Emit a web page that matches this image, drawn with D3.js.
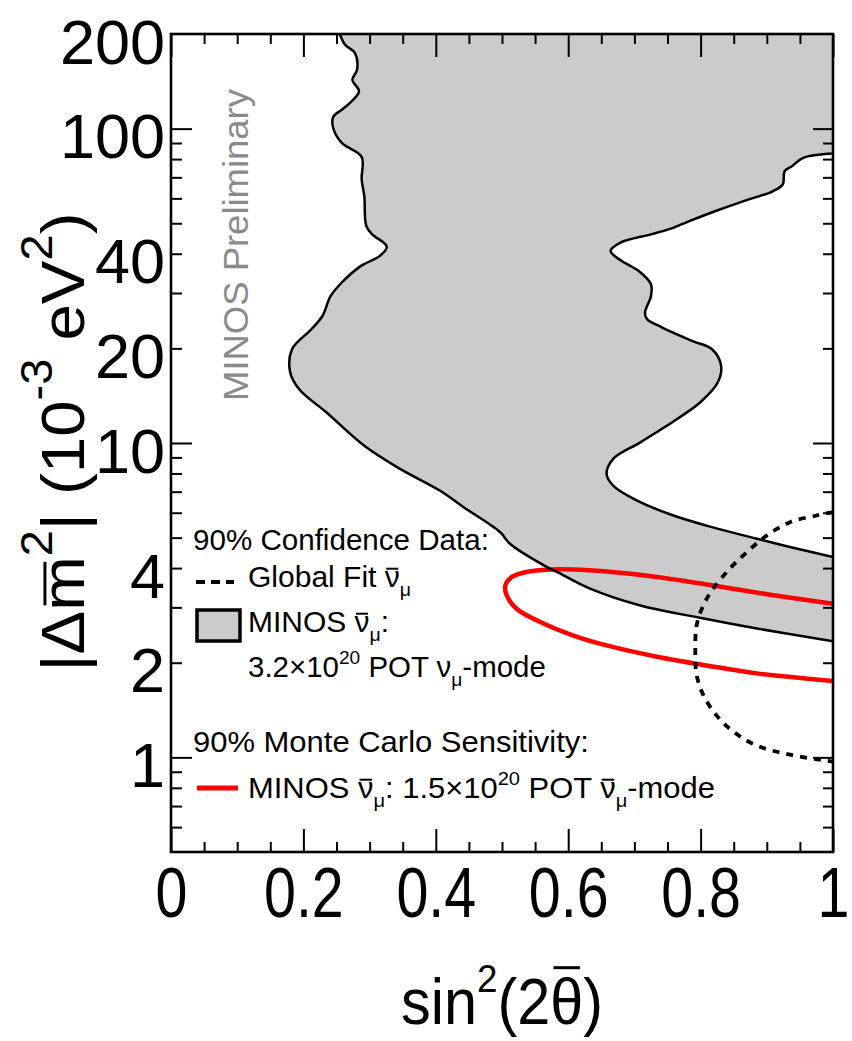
<!DOCTYPE html>
<html>
<head>
<meta charset="utf-8">
<script src="https://cdn.jsdelivr.net/npm/d3@7"></script>
<style>
  html, body { margin: 0; padding: 0; background: #fff; }
  svg { display: block; }
  text { font-family: "Liberation Sans", Arial, Helvetica, sans-serif; }
</style>
</head>
<body>
<svg id="chart" width="852" height="1041"></svg>
<script>
// Axis ticks and labels
const xTickValues = [0, 0.2, 0.4, 0.6, 0.8, 1];
const xTickLabels = ["0", "0.2", "0.4", "0.6", "0.8", "1"];
const xMinorTicks = [0.05, 0.1, 0.15, 0.25, 0.3, 0.35, 0.45, 0.5, 0.55, 0.65, 0.7, 0.75, 0.85, 0.9, 0.95];
const yTickValues = [1, 2, 4, 10, 20, 40, 100, 200];
const yTickLabels = ["1", "2", "4", "10", "20", "40", "100", "200"];
const yMajorTicks = [1, 10, 100];
const yMinorTicks = [0.6, 0.7, 0.8, 0.9, 2, 3, 4, 5, 6, 7, 8, 9, 20, 30, 40, 50, 60, 70, 80, 90];

// MINOS anti-numu 90% C.L. allowed region: outer (left/lower) boundary, top to bottom
const outerS2 = [0.255, 0.263, 0.278, 0.281, 0.274, 0.284, 0.270, 0.258, 0.245, 0.245,
                 0.258, 0.288, 0.288, 0.292, 0.295, 0.304, 0.326, 0.315, 0.287, 0.258,
                 0.241, 0.229, 0.212, 0.183, 0.180, 0.194, 0.235, 0.292, 0.346, 0.406,
                 0.442, 0.497, 0.512, 0.568, 0.583, 0.633, 0.709, 0.799, 0.885, 1.0];
const outerDm2 = [200, 184.8, 173.9, 153.9, 143.0, 131.3, 120.6, 114.9, 108.9, 100.5,
                  90.1, 81.3, 68.9, 61.0, 49.0, 46.1, 42.1, 39.3, 36.6, 32.4,
                  29.3, 25.4, 23.0, 19.9, 16.8, 14.8, 12.5, 9.80, 8.27, 7.06,
                  6.25, 5.21, 4.78, 4.03, 3.89, 3.44, 3.04, 2.78, 2.57, 2.34];
// inner (right/upper) boundary, from the right edge downward
const innerS2 = [1.0, 0.955, 0.938, 0.927, 0.924, 0.909, 0.869, 0.829, 0.783, 0.754,
                 0.725, 0.679, 0.664, 0.681, 0.707, 0.725, 0.725, 0.716, 0.719, 0.742,
                 0.788, 0.817, 0.831, 0.826, 0.800, 0.764, 0.709, 0.668, 0.658, 0.668,
                 0.709, 0.759, 0.809, 0.885, 0.935, 1.0];
const innerDm2 = [83.3, 80.7, 75.9, 73.2, 66.4, 63.2, 59.2, 55.3, 50.8, 48.0,
                  46.1, 43.4, 40.8, 37.9, 35.2, 32.0, 29.3, 26.0, 24.8, 23.3,
                  21.1, 19.9, 17.6, 15.6, 13.5, 11.9, 10.05, 8.90, 7.97, 7.32,
                  6.48, 5.88, 5.46, 4.96, 4.67, 4.34];

// Global fit anti-numu 90% contour
const globalS2 = [1.0, 0.975, 0.935, 0.900, 0.870, 0.844, 0.819, 0.804, 0.794, 0.792,
                  0.794, 0.804, 0.824, 0.849, 0.885, 0.935, 1.0];
const globalDm2 = [6.03, 5.88, 5.60, 5.08, 4.50, 3.98, 3.44, 3.04, 2.63, 2.17,
                   1.83, 1.58, 1.36, 1.21, 1.09, 1.02, 0.969];

// Monte Carlo 90% sensitivity, 1.5e20 POT anti-numu mode
const sensS2 = [1.0, 0.910, 0.819, 0.734, 0.658, 0.608, 0.573, 0.537, 0.515, 0.505,
                0.507, 0.522, 0.557, 0.608, 0.658, 0.734, 0.809, 0.885, 1.0];
const sensDm2 = [3.08, 3.28, 3.52, 3.75, 3.90, 3.96, 3.96, 3.89, 3.75, 3.52,
                 3.28, 2.97, 2.70, 2.44, 2.27, 2.09, 1.96, 1.85, 1.75];

const svg = d3.select("#chart");
const FRAME = { left: 171, right: 833, top: 34, bottom: 852 };

const x = d3.scaleLinear().domain([0, 1]).range([FRAME.left, FRAME.right]);
const y = d3.scaleLog().domain([0.5, 200]).range([FRAME.bottom, FRAME.top]);

svg.append("rect").attr("width", 852).attr("height", 1041).attr("fill", "#fff");
svg.append("defs").append("clipPath").attr("id", "plotClip")
  .append("rect")
  .attr("x", FRAME.left).attr("y", FRAME.top)
  .attr("width", FRAME.right - FRAME.left).attr("height", FRAME.bottom - FRAME.top);

const plot = svg.append("g").attr("clip-path", "url(#plotClip)");
const pts = (xs, ys) => xs.map((v, i) => [v, ys[i]]);
const line = d3.line().x(d => x(d[0])).y(d => y(d[1])).curve(d3.curveCatmullRom.alpha(0.5));

const outerPts = pts(outerS2, outerDm2);
const innerPts = pts(innerS2, innerDm2);

// shaded allowed region: outer edge, right axis, inner edge, top-right corner
const fillPath = line(outerPts)
  + line(innerPts.slice().reverse()).replace(/^M/, "L")
  + `L${x(1)},${y(200)}Z`;
plot.append("path").attr("d", fillPath).attr("fill", "#cbcbcb").attr("stroke", "none");

plot.append("path").attr("d", line(pts(sensS2, sensDm2)))
  .attr("fill", "none").attr("stroke", "#ff0000").attr("stroke-width", 4.5);

[outerPts, innerPts].forEach(p => {
  plot.append("path").attr("d", line(p))
    .attr("fill", "none").attr("stroke", "#000").attr("stroke-width", 2.5)
    .attr("stroke-linejoin", "round");
});

plot.append("path").attr("d", line(pts(globalS2, globalDm2)))
  .attr("fill", "none").attr("stroke", "#000").attr("stroke-width", 3.8)
  .attr("stroke-dasharray", "7,7");

// ---- ticks on all four sides ----
function tickGroup(axisGen, transform) {
  const g = svg.append("g").attr("transform", transform).call(axisGen);
  g.attr("font-size", null).attr("font-family", null);
  g.select(".domain").remove();
  g.selectAll(".tick line").attr("stroke", "#000").attr("stroke-width", 2);
  return g;
}
const noLabel = () => "";

tickGroup(d3.axisBottom(x).tickValues(xMinorTicks).tickSizeInner(-10).tickSizeOuter(0).tickFormat(noLabel),
  `translate(0,${FRAME.bottom})`);
tickGroup(d3.axisTop(x).tickValues(xMinorTicks).tickSizeInner(-10).tickSizeOuter(0).tickFormat(noLabel),
  `translate(0,${FRAME.top})`);
tickGroup(d3.axisTop(x).tickValues(xTickValues).tickSizeInner(-23).tickSizeOuter(0).tickFormat(noLabel),
  `translate(0,${FRAME.top})`);
const xAxisG = tickGroup(
  d3.axisBottom(x).tickValues(xTickValues).tickSizeInner(-23).tickSizeOuter(0)
    .tickPadding(0).tickFormat((d, i) => xTickLabels[i]),
  `translate(0,${FRAME.bottom})`);
xAxisG.selectAll(".tick text")
  .attr("font-size", 70).attr("fill", "#000")
  .attr("y", 65).attr("dy", null)
  .attr("transform", "scale(0.82,1)");

tickGroup(d3.axisLeft(y).tickValues(yMinorTicks).tickSizeInner(-11).tickSizeOuter(0).tickFormat(noLabel),
  `translate(${FRAME.left},0)`);
tickGroup(d3.axisLeft(y).tickValues(yMajorTicks).tickSizeInner(-21).tickSizeOuter(0).tickFormat(noLabel),
  `translate(${FRAME.left},0)`);
tickGroup(d3.axisRight(y).tickValues(yMinorTicks).tickSizeInner(-10).tickSizeOuter(0).tickFormat(noLabel),
  `translate(${FRAME.right},0)`);
tickGroup(d3.axisRight(y).tickValues(yMajorTicks).tickSizeInner(-20).tickSizeOuter(0).tickFormat(noLabel),
  `translate(${FRAME.right},0)`);
const yAxisG = tickGroup(
  d3.axisLeft(y).tickValues(yTickValues).tickSizeInner(0).tickSizeOuter(0)
    .tickPadding(6).tickFormat((d, i) => yTickLabels[i]),
  `translate(${FRAME.left},0)`);
yAxisG.selectAll(".tick line").remove();
yAxisG.selectAll(".tick text")
  .attr("font-size", 63).attr("fill", "#000")
  .attr("y", 29).attr("dy", null);

// frame
svg.append("rect")
  .attr("x", FRAME.left).attr("y", FRAME.top)
  .attr("width", FRAME.right - FRAME.left).attr("height", FRAME.bottom - FRAME.top)
  .attr("fill", "none").attr("stroke", "#000").attr("stroke-width", 2.6);

// ---- text with sub/superscripts and overbars ----
function richText(parent, segs, o) {
  const F = o.size;
  const outer = parent.append("g")
    .attr("transform", `translate(${o.x},${o.y})` + (o.rotate ? ` rotate(${o.rotate})` : ""));
  const inner = outer.append("g");
  const fill = o.fill || "#000";
  const t = inner.append("text")
    .attr("x", 0).attr("y", 0)
    .attr("font-size", F)
    .attr("text-anchor", o.anchor || "start")
    .attr("fill", fill)
    .style("white-space", "pre");
  let shift = 0, idx = 0;
  const bars = [];
  segs.forEach(s => {
    const seg = typeof s === "string" ? { t: s } : s;
    let target = 0, size = F;
    if (seg.sup) { target = -F * (o.supRise ?? 0.45); size = F * (o.supScale ?? 0.65); }
    if (seg.sub) { target = F * (o.subDrop ?? 0.3); size = F * (o.subScale ?? 0.65); }
    const ts = t.append("tspan").text(seg.t).attr("font-size", size);
    if (target - shift !== 0) ts.attr("dy", target - shift);
    shift = target;
    if (seg.bar) bars.push(idx);
    idx += seg.t.length;
  });
  let sx = o.scaleX || 1;
  if (o.fit) sx = o.fit / t.node().getComputedTextLength();
  inner.attr("transform", `scale(${sx},1)`);
  bars.forEach(i => {
    const e = t.node().getExtentOfChar(i);
    const by = -F * (o.barK ?? 0.6);
    inner.append("line")
      .attr("x1", e.x + e.width * 0.1).attr("x2", e.x + e.width * 0.9)
      .attr("y1", by).attr("y2", by)
      .attr("stroke", fill).attr("stroke-width", o.barW || 2);
  });
  return outer;
}

// axis titles
richText(svg, ["|Δ", { t: "m", bar: true }, { t: "2", sup: true }, "| (10", { t: "-3", sup: true },
  " eV", { t: "2", sup: true }, ")"],
  { x: 84, y: 442, rotate: -90, anchor: "middle", size: 62, fit: 459,
    supScale: 0.72, supRise: 0.52, barK: 0.63, barW: 3 });

richText(svg, ["sin", { t: "2", sup: true }, "(2", { t: "θ", bar: true }, ")"],
  { x: 502, y: 1024, anchor: "middle", size: 64, fit: 202,
    supScale: 0.62, supRise: 0.5, barK: 0.88, barW: 3 });

// watermark
richText(svg, ["MINOS Preliminary"],
  { x: 248, y: 245, rotate: -90, anchor: "middle", size: 36, fit: 312, fill: "#8a8a8a" });

// ---- legend ----
const LF = 29.5;
const legendOpts = (xx, yy, fit) => ({ x: xx, y: yy, size: LF, fit: fit,
  supScale: 0.65, supRise: 0.45, subScale: 0.65, subDrop: 0.3, barK: 0.62, barW: 2 });

richText(svg, ["90% Confidence Data:"], legendOpts(193, 550, 296));
svg.append("line").attr("x1", 196).attr("x2", 234).attr("y1", 582).attr("y2", 582)
  .attr("stroke", "#000").attr("stroke-width", 4).attr("stroke-dasharray", "9,6");
richText(svg, ["Global Fit ", { t: "ν", bar: true }, { t: "μ", sub: true }], legendOpts(248, 587, 163));

svg.append("rect").attr("x", 197).attr("y", 610).attr("width", 43).attr("height", 31)
  .attr("fill", "#cbcbcb").attr("stroke", "#000").attr("stroke-width", 3.5);
richText(svg, ["MINOS ", { t: "ν", bar: true }, { t: "μ", sub: true }, ":"], legendOpts(248, 632, 141));
richText(svg, ["3.2×10", { t: "20", sup: true }, " POT ν", { t: "μ", sub: true }, "-mode"],
  legendOpts(248, 677, 298));

richText(svg, ["90% Monte Carlo Sensitivity:"], legendOpts(193, 752, 396));
svg.append("line").attr("x1", 197).attr("x2", 238).attr("y1", 788).attr("y2", 788)
  .attr("stroke", "#ff0000").attr("stroke-width", 5);
richText(svg, ["MINOS ", { t: "ν", bar: true }, { t: "μ", sub: true }, ": 1.5×10", { t: "20", sup: true },
  " POT ", { t: "ν", bar: true }, { t: "μ", sub: true }, "-mode"], legendOpts(248, 798, 467));
</script>
</body>
</html>
